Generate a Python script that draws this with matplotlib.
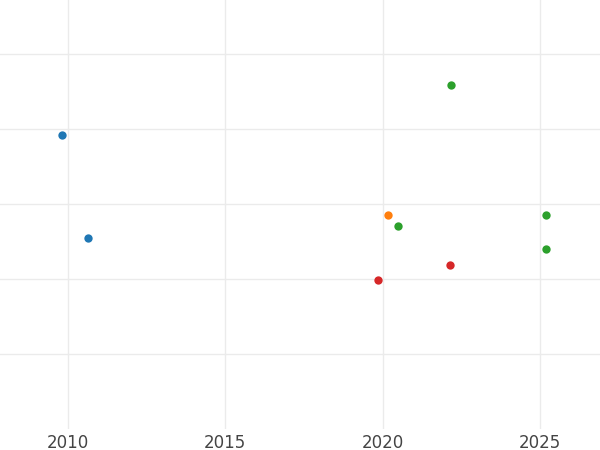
import matplotlib
matplotlib.use("Agg")
import matplotlib.pyplot as plt

# data
blue_x = [2009.81, 2010.64]
blue_y = [2.92, 1.54]
orange_x = [2020.17]
orange_y = [1.85]
green_x = [2022.17, 2020.49, 2025.19, 2025.19]
green_y = [3.59, 1.70, 1.85, 1.40]
red_x = [2019.85, 2022.14]
red_y = [0.99, 1.19]

xticks = [2010, 2015, 2020, 2025]
yticks = [0, 1, 2, 3, 4]

fig = plt.figure(figsize=(6, 4.5), dpi=100)
ax = fig.add_axes([0, 0.047, 1, 0.953])

for xs, ys, c in [(blue_x, blue_y, "#1f77b4"), (orange_x, orange_y, "#ff7f0e"),
                  (green_x, green_y, "#2ca02c"), (red_x, red_y, "#d62728")]:
    ax.scatter(xs, ys, s=36, color=c, zorder=3, linewidths=0)

ax.set_xlim(2007.84, 2026.91)
ax.set_ylim(-1.0, 4.72)
ax.set_xticks(xticks)
ax.set_yticks(yticks)
ax.set_yticklabels([])
ax.grid(True, color="#ebebeb", linewidth=1)
for s in ax.spines.values():
    s.set_visible(False)
ax.tick_params(length=0, labelsize=12, labelcolor="#444444", pad=4)

fig.savefig("out.png", dpi=100)
